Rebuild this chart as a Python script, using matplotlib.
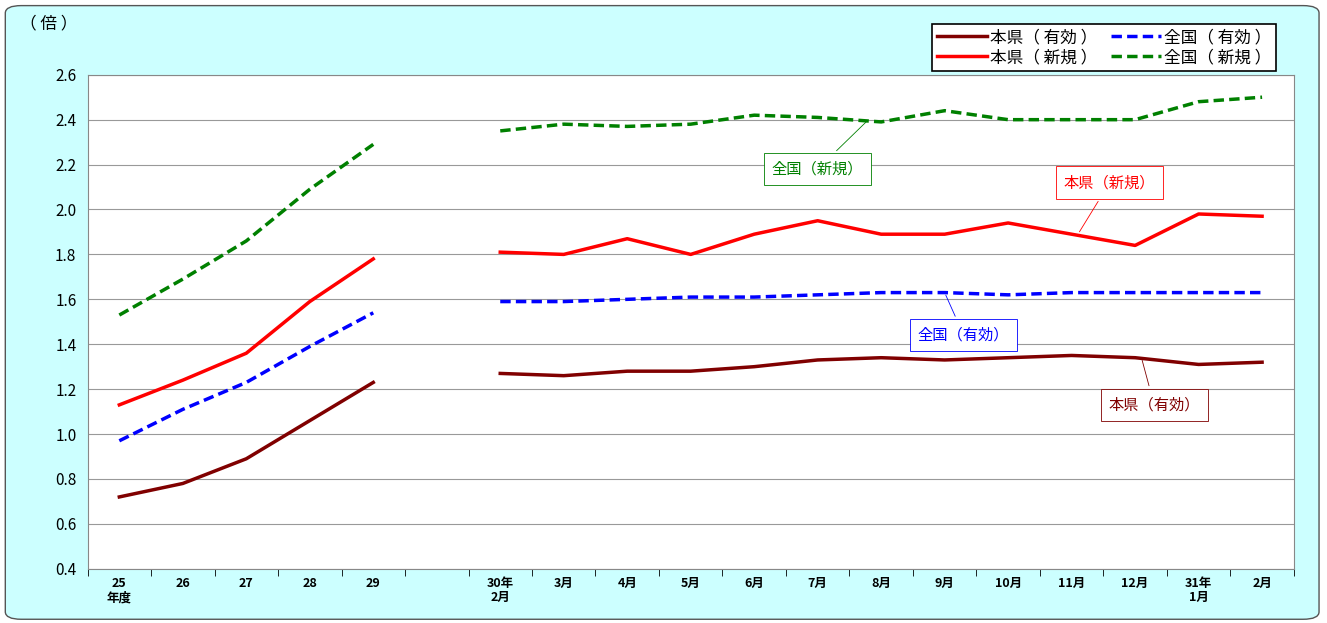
import matplotlib.pyplot as plt
import numpy as np
from matplotlib.patches import FancyBboxPatch

plt.rcParams['font.family'] = ['Noto Sans CJK JP', 'DejaVu Sans']

labels = ['25\n年度', '26', '27', '28', '29', '', '30年\n2月', '3月', '4月', '5月', '6月',
          '7月', '8月', '9月', '10月', '11月', '12月', '31年\n1月', '2月']
nan = np.nan
ken_yuko = [0.72, 0.78, 0.89, 1.06, 1.23, nan, 1.27, 1.26, 1.28, 1.28, 1.30, 1.33, 1.34, 1.33, 1.34, 1.35, 1.34, 1.31, 1.32]
ken_shinki = [1.13, 1.24, 1.36, 1.59, 1.78, nan, 1.81, 1.80, 1.87, 1.80, 1.89, 1.95, 1.89, 1.89, 1.94, 1.89, 1.84, 1.98, 1.97]
zen_yuko = [0.97, 1.11, 1.23, 1.39, 1.54, nan, 1.59, 1.59, 1.60, 1.61, 1.61, 1.62, 1.63, 1.63, 1.62, 1.63, 1.63, 1.63, 1.63]
zen_shinki = [1.53, 1.69, 1.86, 2.09, 2.29, nan, 2.35, 2.38, 2.37, 2.38, 2.42, 2.41, 2.39, 2.44, 2.40, 2.40, 2.40, 2.48, 2.50]

fig = plt.figure(figsize=(13.27, 6.23), dpi=100)
fig.patch.set_facecolor('white')
bg = FancyBboxPatch((0.004, 0.006), 0.99, 0.985, boxstyle='round,pad=0,rounding_size=0.012',
                    transform=fig.transFigure, facecolor='#ccffff', edgecolor='#555555', lw=1, zorder=-10)
fig.patches.append(bg)
ax = fig.add_axes([0.066, 0.087, 0.909, 0.793])
ax.set_facecolor('white')
x = np.arange(len(labels))
ax.plot(x, ken_yuko, color='#800000', lw=2.5, label='本県（ 有効 ）')
ax.plot(x, ken_shinki, color='#ff0000', lw=2.5, label='本県（ 新規 ）')
ax.plot(x, zen_yuko, color='#0000ff', lw=2.5, ls=(0, (3, 1.5)), label='全国（ 有効 ）')
ax.plot(x, zen_shinki, color='#008000', lw=2.5, ls=(0, (3, 1.5)), label='全国（ 新規 ）')

ax.set_xlim(-0.5, len(labels) - 0.5)
ax.set_ylim(0.4, 2.6)
ax.set_yticks(np.arange(0.4, 2.61, 0.2))
ax.set_yticklabels([f'{v:.1f}' for v in np.arange(0.4, 2.61, 0.2)], fontsize=11)
ax.tick_params(axis='y', length=0, pad=8)
ax.set_xticks(x)
ax.set_xticklabels(labels, fontsize=9, fontweight='bold', va='top', linespacing=1.1)
ax.tick_params(axis='x', length=0, pad=6)
ax.set_xticks(np.arange(-0.5, len(labels), 1), minor=True)
ax.tick_params(axis='x', which='minor', length=5)
ax.grid(axis='y', color='#999999', lw=0.8)
for s in ax.spines.values():
    s.set_color('#888888')

fig.text(0.015, 0.955, '（ 倍 ）', fontsize=12)

def callout(text, xy, xytext, color):
    ax.annotate(text, xy=xy, xytext=xytext, fontsize=11, color=color, ha='center', va='center',
                bbox=dict(boxstyle='square,pad=0.5', fc='white', ec=color, lw=0.6),
                arrowprops=dict(arrowstyle='-', color=color, lw=0.6))

callout('全国（新規）', (11.8, 2.40), (11.0, 2.18), '#008000')
callout('本県（新規）', (15.1, 1.89), (15.6, 2.12), '#ff0000')
callout('全国（有効）', (13.0, 1.63), (13.3, 1.44), '#0000ff')
callout('本県（有効）', (16.1, 1.34), (16.3, 1.13), '#800000')

leg = fig.legend(loc='upper right', bbox_to_anchor=(0.968, 0.975), ncol=2, fontsize=12,
                 frameon=True, fancybox=False, edgecolor='black', facecolor='white', framealpha=1,
                 handlelength=3, columnspacing=0.8, borderpad=0.3, labelspacing=0.2, handletextpad=0.2)
leg.get_frame().set_linewidth(1.2)

fig.savefig('out.png', dpi=100)
